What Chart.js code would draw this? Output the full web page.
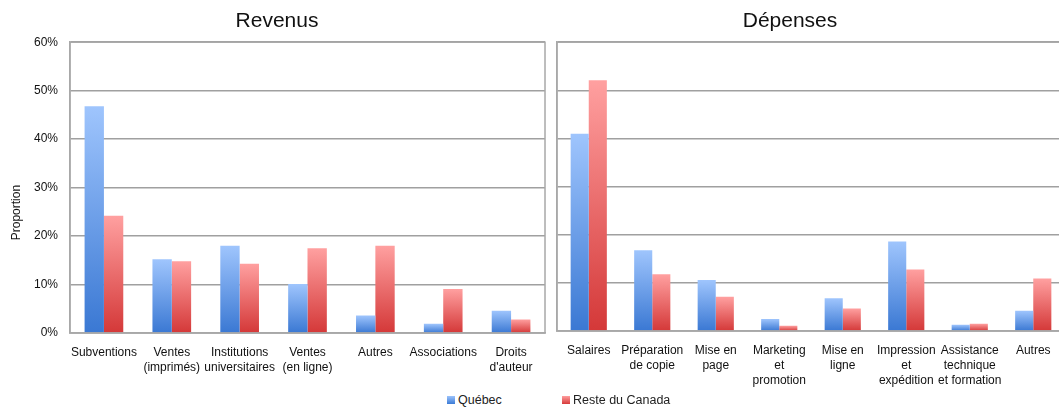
<!DOCTYPE html>
<html>
<head>
<meta charset="utf-8">
<script src="https://cdn.jsdelivr.net/npm/chart.js@4.4.1/dist/chart.umd.min.js"></script>
<style>
  html, body { margin: 0; padding: 0; background: #fff; }
  body { width: 1059px; height: 410px; overflow: hidden; position: relative; font-family: "Liberation Sans", Arial, sans-serif; }
  #wrapL { position: absolute; left: 0; top: 0; width: 576px; height: 379px; }
  #wrapR { position: absolute; left: 515px; top: 0; width: 552px; height: 392px; }
  #legend { position: absolute; top: 393px; left: 0; width: 1059px; font-size: 12.5px; color: #222; }
  #legend span.item { position: absolute; white-space: nowrap; }
  #legend i { display: inline-block; width: 8px; height: 8px; margin-right: 3px; vertical-align: 0px; }
</style>
</head>
<body>
<div id="wrapL"><canvas id="revenus"></canvas></div>
<div id="wrapR"><canvas id="depenses"></canvas></div>
<div id="legend">
  <span class="item" style="left:447px"><i style="background:linear-gradient(#9cc3fb,#3b7bd6)"></i>Québec</span>
  <span class="item" style="left:562px"><i style="background:linear-gradient(#ff9e9e,#d63a3a)"></i>Reste du Canada</span>
</div>
<script>
// donnees (proportion en %)
var revLabels = ['Subventions', ['Ventes', '(imprimés)'], ['Institutions', 'universitaires'], ['Ventes', '(en ligne)'], 'Autres', 'Associations', ['Droits', "d'auteur"]];
var revQuebec = [46.8, 15.2, 18.0, 10.1, 3.6, 1.9, 4.6];
var revCanada = [24.2, 14.8, 14.3, 17.5, 18.0, 9.1, 2.8];

var depLabels = ['Salaires', ['Préparation', 'de copie'], ['Mise en', 'page'], ['Marketing', 'et', 'promotion'], ['Mise en', 'ligne'], ['Impression', 'et', 'expédition'], ['Assistance', 'technique', 'et formation'], 'Autres'];
var depQuebec = [41.0, 16.8, 10.6, 2.5, 6.8, 18.6, 1.3, 4.2];
var depCanada = [52.1, 11.8, 7.1, 1.1, 4.7, 12.8, 1.5, 10.9];

var seriesNames = ['Québec', 'Reste du Canada'];
var yTicks = [0, 10, 20, 30, 40, 50, 60];

// degrade vertical propre a chaque barre (clair en haut, fonce en bas)
function gradient(ctx, top, bottom) {
    var chart = ctx.chart, area = chart.chartArea;
    if (!area || ctx.raw == null) return bottom;
    var y = chart.scales.y.getPixelForValue(ctx.raw);
    if (!isFinite(y) || area.bottom - y < 1) return bottom;
    var g = chart.ctx.createLinearGradient(0, y, 0, area.bottom);
    g.addColorStop(0, top);
    g.addColorStop(1, bottom);
    return g;
}

// cadre gris autour de la zone du graphique
var framePlugin = {
    id: 'frame',
    afterDraw: function(chart) {
        var a = chart.chartArea, c = chart.ctx;
        c.save();
        c.strokeStyle = '#a8a8a8';
        c.lineWidth = 1.5;
        c.strokeRect(a.left, a.top, a.right - a.left, a.bottom - a.top);
        c.restore();
    }
};

function makeChart(id, title, labels, q, rc, showTicks, yWidth, pad) {
    return new Chart(document.getElementById(id), {
        type: 'bar',
        data: {
            labels: labels,
            datasets: [{
                label: seriesNames[0],
                data: q,
                backgroundColor: function(ctx) { return gradient(ctx, '#9fc5fd', '#3a78d3'); },
                borderWidth: 0
            }, {
                label: seriesNames[1],
                data: rc,
                backgroundColor: function(ctx) { return gradient(ctx, '#ffa0a0', '#d43838'); },
                borderWidth: 0
            }]
        },
        options: {
            responsive: true,
            maintainAspectRatio: false,
            animation: false,
            layout: { padding: pad },
            plugins: {
                legend: { display: false },
                tooltip: { enabled: false },
                title: {
                    display: true,
                    text: title,
                    color: '#111',
                    font: { size: 21, family: '"Liberation Sans", Arial, sans-serif', weight: 'normal' },
                    padding: { top: 7, bottom: 8 }
                }
            },
            datasets: { bar: { categoryPercentage: 0.57, barPercentage: 1.0 } },
            scales: {
                x: {
                    grid: { display: false },
                    border: { color: '#a8a8a8', width: 1.5 },
                    ticks: {
                        color: '#111',
                        maxRotation: 0,
                        autoSkip: false,
                        padding: 4,
                        font: { size: 12, family: '"Liberation Sans", Arial, sans-serif', lineHeight: 1.25 }
                    }
                },
                y: {
                    min: 0, max: 60,
                    afterBuildTicks: function(axis) { axis.ticks = yTicks.map(function(v) { return { value: v }; }); },
                    afterFit: function(axis) { axis.width = yWidth; },
                    grid: { color: '#a0a0a0', lineWidth: 1.5, drawTicks: false },
                    border: { color: '#a8a8a8', width: 1.5 },
                    title: {
                        display: showTicks,
                        // espaces finaux : le titre est plus bas que le milieu de l'axe
                        text: 'Proportion' + '\u00a0'.repeat(15),
                        color: '#111',
                        padding: 0,
                        font: { size: 12, family: '"Liberation Sans", Arial, sans-serif' }
                    },
                    ticks: {
                        display: showTicks,
                        color: '#111',
                        padding: 12,
                        font: { size: 12, family: '"Liberation Sans", Arial, sans-serif' },
                        callback: function(v) { return v + '%'; }
                    }
                }
            }
        },
        plugins: [framePlugin]
    });
}

makeChart('revenus', 'Revenus', revLabels, revQuebec, revCanada, true, 61, { top: 2, right: 31, left: 9, bottom: 0 });
makeChart('depenses', 'Dépenses', depLabels, depQuebec, depCanada, false, 42, { top: 2, right: 2, left: 0, bottom: 0 });
</script>
</body>
</html>
